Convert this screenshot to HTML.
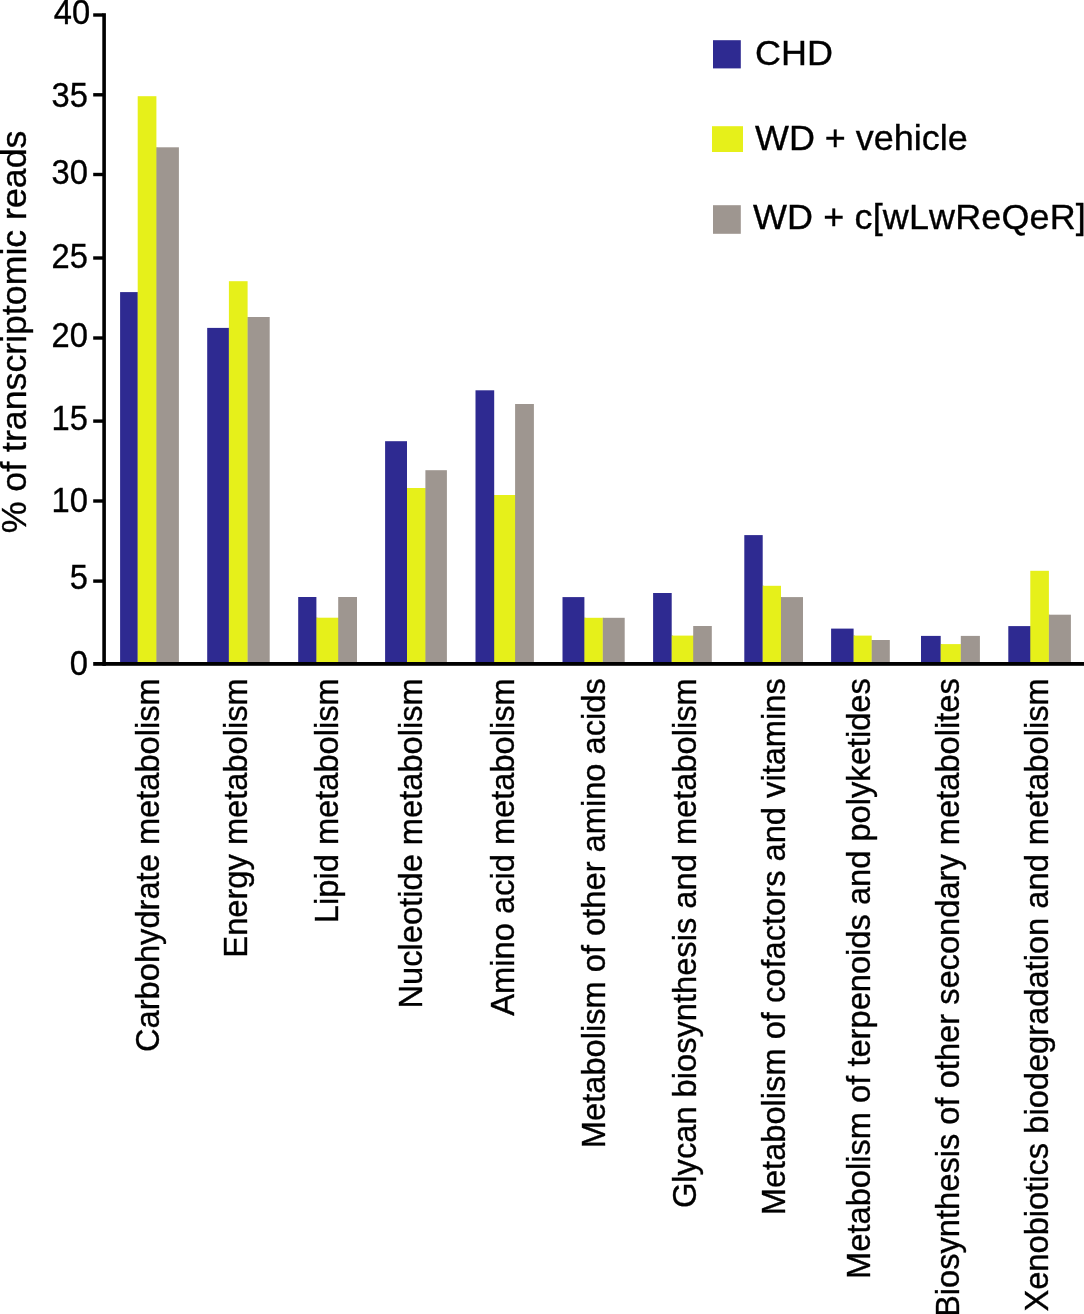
<!DOCTYPE html>
<html lang="en">
<head>
<meta charset="utf-8">
<title>% of transcriptomic reads</title>
<style>
html,body{margin:0;padding:0;background:#fff;}
body{width:1084px;height:1314px;overflow:hidden;}
svg{display:block;will-change:transform;}
text{font-family:"Liberation Sans",Arial,Helvetica,sans-serif;fill:#000;stroke:#000;stroke-width:0.35px;font-kerning:none;font-variant-ligatures:none;}
</style>
</head>
<body>
<svg width="1084" height="1314" viewBox="0 0 1084 1314">
<rect x="0" y="0" width="1084" height="1314" fill="#ffffff"/>
<g>
<rect x="120.1" y="292.1" width="17.6" height="370.9" fill="#2e2a91"/>
<rect x="137.5" y="292.1" width="1.2" height="370.9" fill="#2e2a91"/>
<rect x="137.7" y="96.2" width="18.7" height="566.8" fill="#e6f01a"/>
<rect x="156.2" y="147.3" width="1.2" height="515.7" fill="#e6f01a"/>
<rect x="156.4" y="147.3" width="22.5" height="515.7" fill="#9e9690"/>
<rect x="207.2" y="327.9" width="21.7" height="335.1" fill="#2e2a91"/>
<rect x="228.7" y="327.9" width="1.2" height="335.1" fill="#2e2a91"/>
<rect x="228.9" y="281.2" width="18.7" height="381.8" fill="#e6f01a"/>
<rect x="247.4" y="317.0" width="1.2" height="346.0" fill="#e6f01a"/>
<rect x="247.6" y="317.0" width="22.1" height="346.0" fill="#9e9690"/>
<rect x="298.2" y="597.0" width="18.2" height="66.0" fill="#2e2a91"/>
<rect x="316.2" y="617.7" width="1.2" height="45.3" fill="#2e2a91"/>
<rect x="316.4" y="617.7" width="21.8" height="45.3" fill="#e6f01a"/>
<rect x="338.0" y="617.7" width="1.2" height="45.3" fill="#e6f01a"/>
<rect x="338.2" y="597.0" width="18.8" height="66.0" fill="#9e9690"/>
<rect x="385.1" y="441.2" width="21.9" height="221.8" fill="#2e2a91"/>
<rect x="406.8" y="488.0" width="1.2" height="175.0" fill="#2e2a91"/>
<rect x="407.0" y="488.0" width="18.4" height="175.0" fill="#e6f01a"/>
<rect x="425.2" y="488.0" width="1.2" height="175.0" fill="#e6f01a"/>
<rect x="425.4" y="470.2" width="21.5" height="192.8" fill="#9e9690"/>
<rect x="475.5" y="390.3" width="18.7" height="272.7" fill="#2e2a91"/>
<rect x="494.0" y="495.0" width="1.2" height="168.0" fill="#2e2a91"/>
<rect x="494.2" y="495.0" width="20.9" height="168.0" fill="#e6f01a"/>
<rect x="514.9" y="495.0" width="1.2" height="168.0" fill="#e6f01a"/>
<rect x="515.1" y="404.0" width="18.8" height="259.0" fill="#9e9690"/>
<rect x="562.5" y="597.1" width="21.9" height="65.9" fill="#2e2a91"/>
<rect x="584.2" y="617.8" width="1.2" height="45.2" fill="#2e2a91"/>
<rect x="584.4" y="617.8" width="18.4" height="45.2" fill="#e6f01a"/>
<rect x="602.6" y="617.8" width="1.2" height="45.2" fill="#e6f01a"/>
<rect x="602.8" y="617.8" width="21.9" height="45.2" fill="#9e9690"/>
<rect x="653.1" y="593.0" width="18.6" height="70.0" fill="#2e2a91"/>
<rect x="671.5" y="635.6" width="1.2" height="27.4" fill="#2e2a91"/>
<rect x="671.7" y="635.6" width="21.5" height="27.4" fill="#e6f01a"/>
<rect x="693.0" y="635.6" width="1.2" height="27.4" fill="#e6f01a"/>
<rect x="693.2" y="626.0" width="18.6" height="37.0" fill="#9e9690"/>
<rect x="744.3" y="535.1" width="18.4" height="127.9" fill="#2e2a91"/>
<rect x="762.5" y="585.8" width="1.2" height="77.2" fill="#2e2a91"/>
<rect x="762.7" y="585.8" width="18.3" height="77.2" fill="#e6f01a"/>
<rect x="780.8" y="597.1" width="1.2" height="65.9" fill="#e6f01a"/>
<rect x="781.0" y="597.1" width="22.0" height="65.9" fill="#9e9690"/>
<rect x="831.1" y="628.6" width="22.5" height="34.4" fill="#2e2a91"/>
<rect x="853.4" y="635.6" width="1.2" height="27.4" fill="#2e2a91"/>
<rect x="853.6" y="635.6" width="18.1" height="27.4" fill="#e6f01a"/>
<rect x="871.5" y="640.0" width="1.2" height="23.0" fill="#e6f01a"/>
<rect x="871.7" y="640.0" width="18.1" height="23.0" fill="#9e9690"/>
<rect x="921.0" y="635.9" width="19.7" height="27.1" fill="#2e2a91"/>
<rect x="940.5" y="644.1" width="1.2" height="18.9" fill="#2e2a91"/>
<rect x="940.7" y="644.1" width="20.1" height="18.9" fill="#e6f01a"/>
<rect x="960.6" y="644.1" width="1.2" height="18.9" fill="#e6f01a"/>
<rect x="960.8" y="635.9" width="19.1" height="27.1" fill="#9e9690"/>
<rect x="1008.3" y="626.1" width="22.0" height="36.9" fill="#2e2a91"/>
<rect x="1030.1" y="626.1" width="1.2" height="36.9" fill="#2e2a91"/>
<rect x="1030.3" y="570.8" width="18.6" height="92.2" fill="#e6f01a"/>
<rect x="1048.7" y="614.7" width="1.2" height="48.3" fill="#e6f01a"/>
<rect x="1048.9" y="614.7" width="22.0" height="48.3" fill="#9e9690"/>
</g>
<g fill="#000">
<rect x="102.3" y="13.2" width="3.6" height="652.6"/>
<rect x="93.2" y="662.0" width="990.8" height="3.8"/>
<rect x="93.2" y="13.3" width="10" height="3.4"/>
<rect x="93.2" y="93.1" width="10" height="3.4"/>
<rect x="93.2" y="172.8" width="10" height="3.4"/>
<rect x="93.2" y="256.3" width="10" height="3.4"/>
<rect x="93.2" y="336.3" width="10" height="3.4"/>
<rect x="93.2" y="419.4" width="10" height="3.4"/>
<rect x="93.2" y="499.3" width="10" height="3.4"/>
<rect x="93.2" y="579.4" width="10" height="3.4"/>
</g>
<text transform="translate(90.1,24.0) scale(0.952,1)" font-size="34.3" text-anchor="end">40</text>
<text transform="translate(87.9,106.5) scale(0.952,1)" font-size="34.3" text-anchor="end">35</text>
<text transform="translate(87.9,184.2) scale(0.952,1)" font-size="34.3" text-anchor="end">30</text>
<text transform="translate(87.9,268.0) scale(0.952,1)" font-size="34.3" text-anchor="end">25</text>
<text transform="translate(87.9,346.5) scale(0.952,1)" font-size="34.3" text-anchor="end">20</text>
<text transform="translate(87.9,429.7) scale(0.952,1)" font-size="34.3" text-anchor="end">15</text>
<text transform="translate(87.9,511.5) scale(0.952,1)" font-size="34.3" text-anchor="end">10</text>
<text transform="translate(87.9,589.4) scale(0.952,1)" font-size="34.3" text-anchor="end">5</text>
<text transform="translate(87.9,674.5) scale(0.952,1)" font-size="34.3" text-anchor="end">0</text>
<text transform="translate(26.3,533.3) rotate(-90) scale(1,0.99)" font-size="35.7">% of transcriptomic reads</text>
<text transform="translate(159.0,678.2) rotate(-90) scale(1,1.03)" font-size="32.66" text-anchor="end">Carbohydrate metabolism</text>
<text transform="translate(247.4,678.2) rotate(-90) scale(1,1.03)" font-size="32.66" text-anchor="end">Energy metabolism</text>
<text transform="translate(338.0,678.2) rotate(-90) scale(1,1.03)" font-size="32.66" text-anchor="end">Lipid metabolism</text>
<text transform="translate(422.3,678.2) rotate(-90) scale(1,1.03)" font-size="32.66" text-anchor="end">Nucleotide metabolism</text>
<text transform="translate(513.6,678.2) rotate(-90) scale(1,1.03)" font-size="32.66" text-anchor="end">Amino acid metabolism</text>
<text transform="translate(605.2,678.2) rotate(-90) scale(1,1.03)" font-size="32.66" text-anchor="end">Metabolism of other amino acids</text>
<text transform="translate(695.7,678.2) rotate(-90) scale(1,1.03)" font-size="32.66" text-anchor="end">Glycan biosynthesis and metabolism</text>
<text transform="translate(785.3,678.2) rotate(-90) scale(1,1.03)" font-size="32.66" text-anchor="end">Metabolism of cofactors and vitamins</text>
<text transform="translate(870.1,678.2) rotate(-90) scale(1,1.03)" font-size="32.66" text-anchor="end">Metabolism of terpenoids and polyketides</text>
<text transform="translate(958.6,678.2) rotate(-90) scale(1,1.03)" font-size="32.66" text-anchor="end">Biosynthesis of other secondary metabolites</text>
<text transform="translate(1047.8,678.2) rotate(-90) scale(1,1.03)" font-size="32.66" text-anchor="end">Xenobiotics biodegradation and metabolism</text>
<rect x="713" y="40.2" width="27.8" height="28.2" fill="#2e2a91"/>
<rect x="712" y="126.2" width="31" height="25.8" fill="#e6f01a"/>
<rect x="713" y="205.2" width="27.8" height="28.6" fill="#9e9690"/>
<text transform="translate(755.0,64.8) scale(1.027,1)" font-size="35.0" letter-spacing="0">CHD</text>
<text transform="translate(755.0,149.5) scale(1.027,1)" font-size="35.0" letter-spacing="0">WD + vehicle</text>
<text transform="translate(753.0,228.8) scale(1.027,1)" font-size="35.0" letter-spacing="0.15">WD + c[wLwReQeR]</text>
</svg>
</body>
</html>
